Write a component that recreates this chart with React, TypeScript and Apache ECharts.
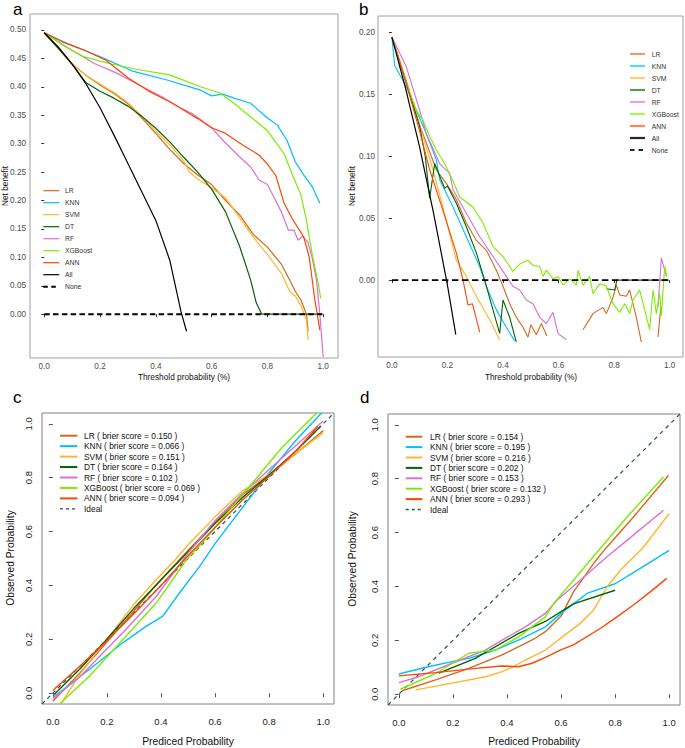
import React, { useEffect, useRef } from "react";
import * as echarts from "echarts";

const FONT = "'Liberation Sans', Arial, Helvetica, sans-serif";

const models = ["LR", "KNN", "SVM", "DT", "RF", "XGBoost", "ANN"];
const colors = ["#D2691E", "#00BFFF", "#FFB52E", "#006400", "#DA70D6", "#7CEC00", "#FF4500"];
const briersC = ["0.150", "0.066", "0.151", "0.164", "0.102", "0.069", "0.094"];
const briersD = ["0.154", "0.195", "0.216", "0.202", "0.153", "0.132", "0.293"];

const ticksAY = [0, 0.05, 0.1, 0.15, 0.2, 0.25, 0.3, 0.35, 0.4, 0.45, 0.5];
const ticksBY = [0, 0.05, 0.1, 0.15, 0.2];
const ticksX = [0, 0.2, 0.4, 0.6, 0.8, 1.0];
const ticksCY = [0, 0.2, 0.4, 0.6, 0.8, 1.0];

// ---- Panel a (decision curves, training) ----
const aLR = [[0,0.495],[0.05,0.468],[0.1,0.44],[0.15,0.42],[0.2,0.403],[0.25,0.388],[0.3,0.37],[0.35,0.345],[0.4,0.318],[0.45,0.29],[0.5,0.265],[0.55,0.245],[0.6,0.228],[0.65,0.2],[0.7,0.175],[0.75,0.14],[0.8,0.118],[0.85,0.088],[0.88,0.06],[0.9,0.04],[0.92,0.025],[0.94,0.0],[0.946,-0.03]];
const aKNN = [[0,0.495],[0.08,0.477],[0.2,0.453],[0.32,0.427],[0.44,0.412],[0.56,0.394],[0.6,0.384],[0.64,0.387],[0.68,0.38],[0.74,0.371],[0.8,0.345],[0.835,0.333],[0.87,0.306],[0.9,0.268],[0.93,0.245],[0.96,0.225],[0.988,0.195]];
const aSVM = [[0,0.495],[0.05,0.468],[0.1,0.44],[0.15,0.42],[0.2,0.405],[0.25,0.39],[0.3,0.372],[0.35,0.348],[0.4,0.322],[0.45,0.298],[0.5,0.27],[0.52,0.25],[0.55,0.238],[0.6,0.222],[0.65,0.205],[0.7,0.17],[0.75,0.135],[0.8,0.105],[0.85,0.072],[0.88,0.04],[0.9,0.032],[0.92,0.015],[0.94,-0.01],[0.946,-0.045]];
const aDT = [[0,0.495],[0.05,0.468],[0.1,0.44],[0.15,0.407],[0.2,0.392],[0.25,0.38],[0.3,0.366],[0.35,0.348],[0.4,0.327],[0.45,0.303],[0.5,0.276],[0.55,0.25],[0.6,0.22],[0.65,0.18],[0.7,0.12],[0.74,0.06],[0.76,0.02],[0.78,0.0],[0.99,0.0]];
const aRF = [[0,0.495],[0.08,0.47],[0.18,0.441],[0.26,0.424],[0.34,0.403],[0.42,0.383],[0.48,0.365],[0.53,0.353],[0.6,0.328],[0.64,0.306],[0.7,0.277],[0.74,0.259],[0.77,0.236],[0.8,0.228],[0.85,0.18],[0.875,0.148],[0.895,0.148],[0.91,0.13],[0.925,0.137],[0.945,0.127],[0.96,0.1],[0.976,0.06],[0.988,0.0],[1.0,-0.075]];
const aXGB = [[0,0.495],[0.07,0.472],[0.14,0.453],[0.24,0.44],[0.34,0.43],[0.45,0.421],[0.56,0.4],[0.63,0.389],[0.68,0.371],[0.74,0.347],[0.8,0.323],[0.86,0.282],[0.89,0.245],[0.92,0.21],[0.94,0.165],[0.96,0.107],[0.98,0.06],[0.991,0.028]];
const aANN = [[0,0.495],[0.07,0.478],[0.14,0.465],[0.22,0.447],[0.3,0.416],[0.38,0.391],[0.46,0.371],[0.55,0.344],[0.6,0.328],[0.65,0.318],[0.71,0.298],[0.77,0.28],[0.8,0.264],[0.83,0.244],[0.86,0.195],[0.89,0.167],[0.93,0.136],[0.95,0.1],[0.97,0.025],[0.988,-0.028]];
const aAll = [[0,0.495],[0.05,0.47],[0.1,0.44],[0.15,0.405],[0.2,0.363],[0.25,0.315],[0.3,0.265],[0.35,0.215],[0.4,0.165],[0.45,0.095],[0.49,0.005],[0.51,-0.03]];
const aNone = [[0,0],[1,0]];

// ---- Panel b (decision curves, validation) ----
const bLR = [[0,0.196],[0.05,0.162],[0.1,0.125],[0.16,0.089],[0.196,0.078],[0.232,0.065],[0.268,0.046],[0.304,0.032],[0.34,0.024],[0.376,0.008],[0.4,-0.005],[0.424,-0.019],[0.448,-0.03],[0.472,-0.038],[0.49,-0.046],[0.5,-0.036],[0.52,-0.044],[0.538,-0.035],[0.558,-0.045],null,[0.688,-0.04],[0.724,-0.027],[0.76,-0.022],[0.772,-0.027],[0.796,-0.014],[0.808,-0.004],[0.82,-0.012],[0.844,-0.013],[0.856,-0.008],[0.88,-0.03],[0.898,-0.05],null,[0.958,-0.046],[0.968,-0.022]];
const bKNN = [[0,0.196],[0.01,0.173],[0.052,0.156],[0.088,0.137],[0.124,0.118],[0.16,0.097],[0.172,0.081],[0.22,0.059],[0.268,0.035],[0.316,0.011],[0.34,-0.005],[0.376,-0.024],[0.412,-0.038],[0.442,-0.049]];
const bSVM = [[0,0.196],[0.05,0.162],[0.1,0.125],[0.148,0.089],[0.196,0.048],[0.232,0.016],[0.268,0.003],[0.304,-0.013],[0.352,-0.032],[0.388,-0.048]];
const bDT = [[0,0.196],[0.05,0.16],[0.1,0.124],[0.12,0.1],[0.136,0.066],[0.154,0.094],[0.19,0.074],[0.2,0.076],[0.232,0.062],[0.268,0.043],[0.304,0.022],[0.334,0],[0.364,-0.024],[0.388,-0.043],[0.4,-0.016],[0.424,-0.03],[0.448,-0.05],null,[0.772,-0.007],[0.802,-0.008],[0.81,0],[0.99,0]];
const bRF = [[0,0.196],[0.052,0.172],[0.1,0.137],[0.124,0.118],[0.172,0.094],[0.208,0.086],[0.22,0.073],[0.268,0.054],[0.316,0.035],[0.364,0.019],[0.412,0.003],[0.436,-0.005],[0.46,-0.008],[0.484,-0.016],[0.508,-0.019],[0.532,-0.03],[0.556,-0.035],[0.58,-0.026],[0.598,-0.043],[0.628,-0.048],null,[0.958,-0.022],[0.97,0.018],[0.988,0.003]];
const bXGB = [[0,0.196],[0.052,0.159],[0.088,0.137],[0.112,0.129],[0.136,0.116],[0.16,0.105],[0.19,0.094],[0.22,0.08],[0.244,0.067],[0.292,0.059],[0.328,0.046],[0.364,0.027],[0.4,0.019],[0.436,0.007],[0.46,0.013],[0.49,0.016],[0.508,0.012],[0.532,0.011],[0.544,0.003],[0.556,0.008],[0.58,0.001],[0.598,0.003],[0.616,-0.004],[0.64,0.001],[0.664,-0.004],[0.67,0.008],[0.688,-0.004],[0.712,0.003],[0.724,-0.011],[0.748,-0.003],[0.772,-0.005],[0.796,-0.019],[0.82,-0.026],[0.838,-0.019],[0.856,-0.027],[0.868,-0.016],[0.892,-0.008],[0.91,-0.024],[0.928,-0.04],[0.94,-0.008],[0.952,-0.027],[0.964,-0.011],[0.97,-0.029],[0.982,0.011],[0.99,0.003]];
const bANN = [[0,0.196],[0.05,0.16],[0.1,0.12],[0.136,0.089],[0.184,0.056],[0.232,0.022],[0.256,0],[0.274,-0.02],[0.29,-0.019],[0.316,-0.042]];
const bAll = [[0,0.196],[0.05,0.154],[0.1,0.107],[0.15,0.054],[0.2,-0.004],[0.23,-0.044]];
const bNone = [[0,0],[1,0]];

// ---- Panel c (calibration, training) ----
const cLR = [[0.0,-0.03],[0.1,0.075],[0.2,0.19],[0.3,0.305],[0.38,0.4],[0.5,0.53],[0.6,0.635],[0.7,0.735],[0.8,0.81],[0.9,0.89],[1.0,0.975]];
const cKNN = [[0.0,-0.016],[0.136,0.089],[0.26,0.188],[0.346,0.249],[0.407,0.286],[0.469,0.373],[0.543,0.471],[0.6,0.555],[0.7,0.687],[0.79,0.806],[0.9,0.94],[0.994,1.04]];
const cSVM = [[0.03,-0.04],[0.1,0.07],[0.2,0.2],[0.3,0.33],[0.383,0.422],[0.457,0.5],[0.5,0.55],[0.605,0.66],[0.7,0.75],[0.79,0.806],[0.9,0.89],[1.0,0.967]];
const cDT = [[0.005,-0.005],[0.1,0.09],[0.2,0.2],[0.3,0.315],[0.4,0.42],[0.5,0.525],[0.6,0.63],[0.7,0.725],[0.8,0.81],[0.9,0.9],[0.99,0.99]];
const cRF = [[0.0,-0.02],[0.1,0.06],[0.2,0.165],[0.26,0.225],[0.383,0.36],[0.5,0.52],[0.6,0.64],[0.7,0.74],[0.8,0.83],[0.9,0.92],[1.0,1.01]];
const cXGB = [[0.025,-0.04],[0.136,0.064],[0.26,0.2],[0.383,0.336],[0.444,0.422],[0.494,0.496],[0.543,0.547],[0.6,0.615],[0.729,0.769],[0.85,0.915],[0.976,1.04]];
const cANN = [[0.0,0.01],[0.1,0.1],[0.2,0.195],[0.3,0.295],[0.4,0.4],[0.5,0.51],[0.6,0.615],[0.7,0.715],[0.8,0.805],[0.9,0.9],[0.98,0.99]];

// ---- Panel d (calibration, validation) ----
const dLR = [[0.012,0.013],[0.136,0.053],[0.259,0.096],[0.382,0.146],[0.468,0.189],[0.5,0.205],[0.542,0.232],[0.6,0.29],[0.646,0.38],[0.72,0.485],[0.76,0.535],[0.868,0.658],[0.997,0.812]];
const dKNN = [[0,0.075],[0.1,0.1],[0.197,0.121],[0.259,0.133],[0.357,0.164],[0.443,0.201],[0.542,0.25],[0.6,0.3],[0.696,0.374],[0.8,0.41],[0.893,0.467],[1.0,0.534]];
const dSVM = [[0.062,0.016],[0.197,0.041],[0.32,0.065],[0.382,0.084],[0.419,0.1],[0.468,0.127],[0.542,0.164],[0.622,0.226],[0.671,0.263],[0.72,0.312],[0.77,0.398],[0.819,0.46],[0.9,0.54],[1.0,0.67]];
const dDT = [[0.148,0.078],[0.283,0.133],[0.443,0.226],[0.542,0.27],[0.646,0.335],[0.8,0.386]];
const dRF = [[0,0.043],[0.074,0.065],[0.197,0.115],[0.32,0.164],[0.382,0.201],[0.468,0.25],[0.542,0.3],[0.585,0.349],[0.671,0.423],[0.77,0.51],[0.844,0.571],[0.979,0.683]];
const dXGB = [[0.006,0.0185],[0.136,0.077],[0.259,0.152],[0.308,0.158],[0.357,0.164],[0.443,0.213],[0.542,0.287],[0.573,0.337],[0.646,0.423],[0.708,0.497],[0.844,0.658],[0.979,0.806]];
const dANN = [[0,0.068],[0.136,0.08],[0.283,0.096],[0.382,0.105],[0.443,0.102],[0.493,0.115],[0.542,0.137],[0.597,0.164],[0.646,0.183],[0.745,0.244],[0.807,0.287],[0.868,0.331],[0.93,0.38],[0.991,0.43]];
const ideal = [[-0.04,-0.04],[1.04,1.04]];

const panelA = [aLR, aKNN, aSVM, aDT, aRF, aXGB, aANN];
const panelB = [bLR, bKNN, bSVM, bDT, bRF, bXGB, bANN];
const panelC = [cLR, cKNN, cSVM, cDT, cRF, cXGB, cANN];
const panelD = [dLR, dKNN, dSVM, dDT, dRF, dXGB, dANN];

function prep(d: any[]) {
  return d.map((p) => (p === null ? "-" : p));
}

function lineSeries(data: any[], idx: number, color: string, width: number, dash?: number[], z = 2) {
  return {
    type: "line",
    xAxisIndex: idx,
    yAxisIndex: idx,
    data: prep(data),
    showSymbol: false,
    symbol: "none",
    connectNulls: false,
    clip: true,
    z,
    lineStyle: { color, width, type: dash ? dash : "solid", cap: "butt" },
    silent: true,
  };
}

function axis(gridIndex: number, min: number, max: number, ticks: number[], digits: number, o: any) {
  return {
    type: "value",
    gridIndex,
    min,
    max,
    axisLine: { show: false },
    splitLine: { show: false },
    axisTick: { show: true, customValues: ticks, length: o.tickLen, lineStyle: { color: o.tickColor, width: 1 } },
    axisLabel: {
      show: true,
      customValues: ticks,
      formatter: (v: number) => Number(v).toFixed(digits),
      fontSize: o.fs,
      color: o.lc,
      fontFamily: FONT,
      margin: o.margin,
      rotate: o.rotate || 0,
    },
  };
}

function txt(x: number, y: number, text: string, fs: number, opts: any = {}) {
  return {
    type: "text",
    x,
    y,
    rotation: opts.rotation || 0,
    z: 100,
    style: {
      text,
      fontSize: fs,
      fontFamily: FONT,
      fill: opts.fill || "#111",
      textAlign: opts.align || "left",
      textVerticalAlign: opts.valign || "middle",
    },
  };
}

function seg(x1: number, y1: number, x2: number, y2: number, stroke: string, lineWidth: number, dash?: number[], opacity = 1) {
  return {
    type: "line",
    z: 100,
    shape: { x1, y1, x2, y2 },
    style: { stroke, lineWidth, lineDash: dash || null, opacity },
  };
}

export default function App() {
  const ref = useRef<HTMLDivElement>(null);
  useEffect(() => {
    document.body.style.margin = "0";
    if (!ref.current) return;
    const chart = echarts.init(ref.current, undefined, { renderer: "svg" });

    const ggBox = { show: true, borderColor: "#A0A0A0", borderWidth: 1, backgroundColor: "transparent", outerBoundsMode: "none", containLabel: false };
    const rBox = { show: true, borderColor: "#808080", borderWidth: 1, backgroundColor: "transparent", outerBoundsMode: "none", containLabel: false };
    const grids = [
      { ...ggBox, left: 30, top: 14, width: 308, height: 344 },
      { ...ggBox, left: 378, top: 16, width: 305, height: 341 },
      { ...rBox, left: 42, top: 413, width: 292, height: 291 },
      { ...rBox, left: 388, top: 414, width: 292, height: 291 },
    ];

    const ggX = { tickLen: 3, tickColor: "#333", fs: 8.2, lc: "#4D4D4D", margin: 4.5 };
    const ggY = { tickLen: 3, tickColor: "#333", fs: 8.2, lc: "#4D4D4D", margin: 4 };
    const rX = { tickLen: 4, tickColor: "#555", fs: 9.5, lc: "#222", margin: 12 };
    const rY = { tickLen: 4, tickColor: "#555", fs: 9.5, lc: "#222", margin: 9, rotate: 90 };

    const xAxis = [
      axis(0, -0.051, 1.053, ticksX, 1, ggX),
      axis(1, -0.05, 1.048, ticksX, 1, ggX),
      axis(2, -0.04, 1.04, ticksX, 1, rX),
      axis(3, -0.04, 1.04, ticksX, 1, rX),
    ];
    const yAxis = [
      axis(0, -0.077, 0.528, ticksAY, 2, ggY),
      axis(1, -0.062, 0.213, ticksBY, 2, { ...ggY, margin: 3 }),
      axis(2, -0.04, 1.04, ticksCY, 1, rY),
      axis(3, -0.04, 1.04, ticksCY, 1, rY),
    ];

    const series: any[] = [];
    panelA.forEach((d, i) => series.push(lineSeries(d, 0, colors[i], 1.2)));
    series.push(lineSeries(aAll, 0, "#000", 1.2));
    series.push(lineSeries(aNone, 0, "#000", 2, [5.5, 3.3], 3));
    panelB.forEach((d, i) => series.push(lineSeries(d, 1, colors[i], 1.1)));
    series.push(lineSeries(bAll, 1, "#000", 1.2));
    series.push(lineSeries(bNone, 1, "#000", 1.8, [6.5, 3.5], 3));
    series.push(lineSeries(ideal, 2, "#2F4F4F", 1.2, [4, 3.5], 1));
    panelC.forEach((d, i) => series.push(lineSeries(d, 2, colors[i], 1.4)));
    series.push(lineSeries(ideal, 3, "#2F4F4F", 1.2, [4, 4], 1));
    panelD.forEach((d, i) => series.push(lineSeries(d, 3, colors[i], 1.4)));

    const g: any[] = [];
    // panel letters
    g.push(txt(13, 9.5, "a", 17, { fill: "#000" }));
    g.push(txt(359, 9.5, "b", 17, { fill: "#000" }));
    g.push(txt(13, 397, "c", 17, { fill: "#000" }));
    g.push(txt(360, 397, "d", 17, { fill: "#000" }));
    // axis titles
    g.push(txt(184, 377, "Threshold probability (%)", 8.3, { align: "center" }));
    g.push(txt(531, 377, "Threshold probability (%)", 8.3, { align: "center" }));
    g.push(txt(4.8, 186, "Net benefit", 8.3, { align: "center", rotation: Math.PI / 2 }));
    g.push(txt(351.7, 186, "Net benefit", 8.3, { align: "center", rotation: Math.PI / 2 }));
    g.push(txt(188, 741.5, "Prediced Probability", 10.3, { align: "center" }));
    g.push(txt(534, 741.5, "Prediced Probability", 10.3, { align: "center" }));
    g.push(txt(10, 558, "Observed Probability", 10.3, { align: "center", rotation: Math.PI / 2 }));
    g.push(txt(352.5, 559, "Observed Probability", 10.3, { align: "center", rotation: Math.PI / 2 }));

    // legend a
    const legAB = [...models, "All", "None"];
    const colAB = [...colors, "#000", "#000"];
    legAB.forEach((n, i) => {
      const y = 190.7 + i * 12;
      g.push(seg(43.3, y, 59.3, y, colAB[i], n === "None" ? 2 : 1.2, n === "None" ? [4.5, 3.5] : undefined));
      g.push(txt(65, y, n, 6.8, { fill: "#333" }));
    });
    // legend b
    legAB.forEach((n, i) => {
      const y = 54 + i * 12;
      g.push(seg(630, y, 645, y, colAB[i], n === "None" ? 2 : 2.2, n === "None" ? [4.5, 4] : undefined, n === "None" || n === "All" ? 0.85 : 0.65));
      g.push(txt(651.7, y, n, 6.8, { fill: "#333" }));
    });
    // legend c
    models.forEach((n, i) => {
      const y = 435.7 + i * 10.45;
      g.push(seg(60, y, 77.3, y, colors[i], 2));
      g.push(txt(84, y, `${n} ( brier score = ${briersC[i]} )`, 8.4, { fill: "#111" }));
    });
    g.push(seg(60, 435.7 + 7 * 10.45, 77.3, 435.7 + 7 * 10.45, "#2F4F4F", 1.3, [3, 3]));
    g.push(txt(84, 435.7 + 7 * 10.45, "Ideal", 8.4, { fill: "#111" }));
    // legend d
    models.forEach((n, i) => {
      const y = 436.7 + i * 10.4;
      g.push(seg(405.7, y, 422.3, y, colors[i], 2));
      g.push(txt(430, y, `${n} ( brier score = ${briersD[i]} )`, 8.4, { fill: "#111" }));
    });
    g.push(seg(405.7, 436.7 + 7 * 10.4, 422.3, 436.7 + 7 * 10.4, "#2F4F4F", 1.3, [3, 3]));
    g.push(txt(430, 436.7 + 7 * 10.4, "Ideal", 8.4, { fill: "#111" }));

    chart.setOption({
      animation: false,
      backgroundColor: "#fff",
      grid: grids,
      xAxis,
      yAxis,
      series,
      graphic: { elements: g },
    });
    return () => chart.dispose();
  }, []);
  return <div ref={ref} style={{ width: 685, height: 748 }} />;
}
